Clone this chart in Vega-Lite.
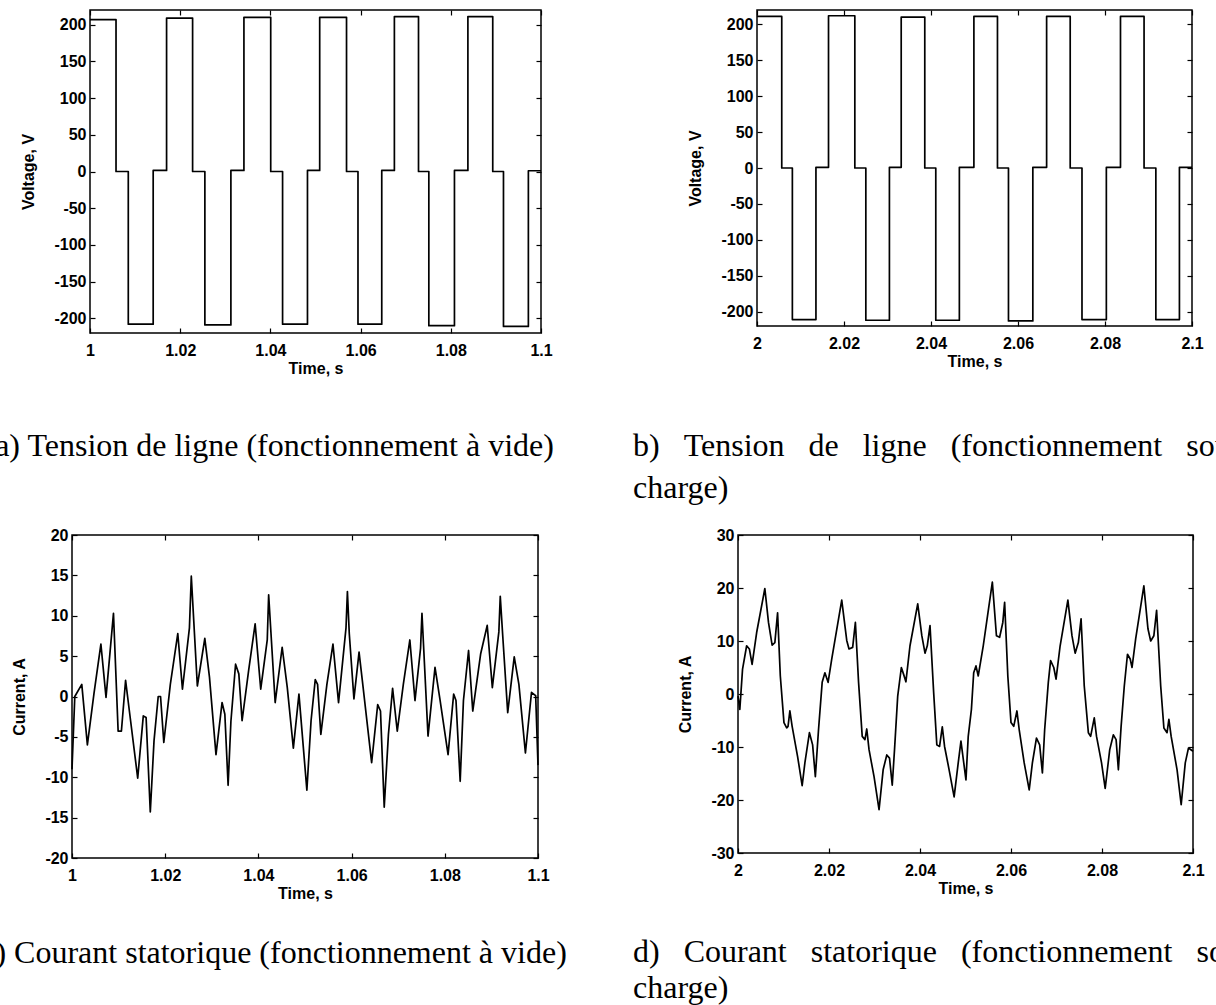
{
  "$schema": "https://vega.github.io/schema/vega-lite/v6.json",
  "background": "white",
  "padding": {"left": -20, "top": 8, "right": 0, "bottom": 0},
  "datasets": {
    "va": [{"t":1,"v":207},{"t":1.00577,"v":207},{"t":1.00577,"v":0},{"t":1.00849,"v":0},{"t":1.00849,"v":-208},{"t":1.01401,"v":-208},{"t":1.01401,"v":1.5},{"t":1.01698,"v":1.5},{"t":1.01698,"v":209},{"t":1.02275,"v":209},{"t":1.02275,"v":0},{"t":1.02547,"v":0},{"t":1.02547,"v":-209},{"t":1.03124,"v":-209},{"t":1.03124,"v":1.5},{"t":1.03413,"v":1.5},{"t":1.03413,"v":210},{"t":1.04007,"v":210},{"t":1.04007,"v":0},{"t":1.0427,"v":0},{"t":1.0427,"v":-208},{"t":1.04822,"v":-208},{"t":1.04822,"v":1.5},{"t":1.05093,"v":1.5},{"t":1.05093,"v":210},{"t":1.05688,"v":210},{"t":1.05688,"v":0},{"t":1.05942,"v":0},{"t":1.05942,"v":-208},{"t":1.06469,"v":-208},{"t":1.06469,"v":1.5},{"t":1.06749,"v":1.5},{"t":1.06749,"v":211},{"t":1.07284,"v":211},{"t":1.07284,"v":0},{"t":1.07513,"v":0},{"t":1.07513,"v":-210},{"t":1.08081,"v":-210},{"t":1.08081,"v":1.5},{"t":1.08379,"v":1.5},{"t":1.08379,"v":211},{"t":1.0893,"v":211},{"t":1.0893,"v":0},{"t":1.09168,"v":0},{"t":1.09168,"v":-211},{"t":1.0972,"v":-211},{"t":1.0972,"v":1},{"t":1.1,"v":1}],
    "vb": [{"t":2,"v":211},{"t":2.00569,"v":211},{"t":2.00569,"v":0},{"t":2.00813,"v":0},{"t":2.00813,"v":-211},{"t":2.01355,"v":-211},{"t":2.01355,"v":1},{"t":2.01644,"v":1},{"t":2.01644,"v":212},{"t":2.02249,"v":212},{"t":2.02249,"v":0},{"t":2.02502,"v":0},{"t":2.02502,"v":-212},{"t":2.03044,"v":-212},{"t":2.03044,"v":1},{"t":2.03315,"v":1},{"t":2.03315,"v":210},{"t":2.03857,"v":210},{"t":2.03857,"v":0},{"t":2.0411,"v":0},{"t":2.0411,"v":-212},{"t":2.04652,"v":-212},{"t":2.04652,"v":1},{"t":2.04986,"v":1},{"t":2.04986,"v":211},{"t":2.05528,"v":211},{"t":2.05528,"v":0},{"t":2.05781,"v":0},{"t":2.05781,"v":-213},{"t":2.06341,"v":-213},{"t":2.06341,"v":1},{"t":2.06658,"v":1},{"t":2.06658,"v":211},{"t":2.072,"v":211},{"t":2.072,"v":0},{"t":2.07471,"v":0},{"t":2.07471,"v":-211},{"t":2.08031,"v":-211},{"t":2.08031,"v":1},{"t":2.08356,"v":1},{"t":2.08356,"v":211},{"t":2.08898,"v":211},{"t":2.08898,"v":0},{"t":2.09169,"v":0},{"t":2.09169,"v":-211},{"t":2.09711,"v":-211},{"t":2.09711,"v":1},{"t":2.1,"v":1}],
    "ic": [{"t":1,"v":-9},{"t":1.0006,"v":0},{"t":1.0021,"v":1.5},{"t":1.0033,"v":-6},{"t":1.0047,"v":0.3},{"t":1.0062,"v":6.5},{"t":1.0073,"v":-0.1},{"t":1.0089,"v":10.3},{"t":1.0099,"v":-4.3},{"t":1.0106,"v":-4.3},{"t":1.0115,"v":2},{"t":1.0124,"v":-2.2},{"t":1.0141,"v":-10.1},{"t":1.0153,"v":-2.4},{"t":1.0159,"v":-2.6},{"t":1.0168,"v":-14.3},{"t":1.0176,"v":-5.5},{"t":1.0185,"v":0},{"t":1.019,"v":0},{"t":1.0197,"v":-5.7},{"t":1.0211,"v":1.5},{"t":1.0227,"v":7.8},{"t":1.0237,"v":0.9},{"t":1.0252,"v":8.5},{"t":1.0256,"v":14.9},{"t":1.0269,"v":1.3},{"t":1.0285,"v":7.2},{"t":1.0295,"v":2.4},{"t":1.0309,"v":-7.2},{"t":1.0322,"v":-0.75},{"t":1.0328,"v":-2.2},{"t":1.0335,"v":-11},{"t":1.0341,"v":-3.1},{"t":1.0351,"v":4},{"t":1.0358,"v":2.8},{"t":1.0365,"v":-3},{"t":1.0379,"v":3.2},{"t":1.0393,"v":9},{"t":1.0405,"v":0.9},{"t":1.0419,"v":7},{"t":1.0422,"v":12.6},{"t":1.0436,"v":-0.75},{"t":1.0451,"v":6.1},{"t":1.0462,"v":1.1},{"t":1.0475,"v":-6.4},{"t":1.0487,"v":0.3},{"t":1.0504,"v":-11.6},{"t":1.0513,"v":-3},{"t":1.0522,"v":2.1},{"t":1.0527,"v":1.5},{"t":1.0534,"v":-4.7},{"t":1.0547,"v":1.5},{"t":1.056,"v":6.5},{"t":1.0572,"v":-0.75},{"t":1.0588,"v":8.5},{"t":1.0591,"v":13},{"t":1.0595,"v":7.8},{"t":1.0605,"v":-0.3},{"t":1.0616,"v":5.5},{"t":1.0623,"v":2},{"t":1.0643,"v":-8.2},{"t":1.0656,"v":-1},{"t":1.0662,"v":-1.8},{"t":1.067,"v":-13.7},{"t":1.0679,"v":-4.7},{"t":1.0688,"v":1},{"t":1.0698,"v":-4.3},{"t":1.0711,"v":1.5},{"t":1.0725,"v":7},{"t":1.0736,"v":-0.5},{"t":1.0748,"v":6},{"t":1.0751,"v":10.3},{"t":1.0764,"v":-4.9},{"t":1.0779,"v":3.6},{"t":1.079,"v":-0.5},{"t":1.0807,"v":-7.2},{"t":1.0819,"v":0.3},{"t":1.0824,"v":-0.5},{"t":1.0833,"v":-10.5},{"t":1.084,"v":-0.5},{"t":1.0851,"v":5.7},{"t":1.086,"v":-1.8},{"t":1.0877,"v":5.3},{"t":1.0891,"v":8.8},{"t":1.0902,"v":1.1},{"t":1.0916,"v":8},{"t":1.0919,"v":12.4},{"t":1.0924,"v":7.8},{"t":1.0935,"v":-2},{"t":1.0949,"v":4.9},{"t":1.0959,"v":1.5},{"t":1.0973,"v":-7},{"t":1.0986,"v":0.5},{"t":1.0995,"v":0.1},{"t":1.1,"v":-8.5}],
    "id": [{"t":2,"v":-0.4},{"t":2.0004,"v":-2.9},{"t":2.001,"v":4.7},{"t":2.0019,"v":9.1},{"t":2.0025,"v":8.5},{"t":2.0031,"v":5.6},{"t":2.0041,"v":11.6},{"t":2.0059,"v":19.9},{"t":2.0067,"v":13.5},{"t":2.0075,"v":9.2},{"t":2.0081,"v":9.7},{"t":2.0087,"v":15.3},{"t":2.0093,"v":3.4},{"t":2.0101,"v":-5.4},{"t":2.0107,"v":-6.4},{"t":2.011,"v":-6.1},{"t":2.0114,"v":-3.2},{"t":2.0119,"v":-6.1},{"t":2.0131,"v":-11.8},{"t":2.0141,"v":-17.3},{"t":2.0147,"v":-13},{"t":2.0157,"v":-7.3},{"t":2.0164,"v":-9.6},{"t":2.017,"v":-15.6},{"t":2.0177,"v":-6.7},{"t":2.0185,"v":2.2},{"t":2.0191,"v":4},{"t":2.0198,"v":2.2},{"t":2.0206,"v":6.6},{"t":2.0228,"v":17.7},{"t":2.0239,"v":10.1},{"t":2.0244,"v":8.5},{"t":2.0252,"v":8.8},{"t":2.0258,"v":13.5},{"t":2.0265,"v":2.2},{"t":2.0273,"v":-8},{"t":2.0279,"v":-8.6},{"t":2.0283,"v":-6.6},{"t":2.0288,"v":-10.5},{"t":2.0299,"v":-15.6},{"t":2.031,"v":-21.8},{"t":2.0319,"v":-14.3},{"t":2.0327,"v":-11.5},{"t":2.0333,"v":-12.1},{"t":2.0339,"v":-17.2},{"t":2.0344,"v":-10.5},{"t":2.0351,"v":-0.4},{"t":2.0359,"v":5},{"t":2.0364,"v":3.7},{"t":2.0369,"v":2.3},{"t":2.0378,"v":9.1},{"t":2.0395,"v":17},{"t":2.0404,"v":11},{"t":2.0411,"v":7.7},{"t":2.0416,"v":9.1},{"t":2.0422,"v":12.9},{"t":2.043,"v":0.3},{"t":2.0437,"v":-9.6},{"t":2.0443,"v":-9.9},{"t":2.0449,"v":-6.2},{"t":2.0454,"v":-9.9},{"t":2.0464,"v":-14.3},{"t":2.0475,"v":-19.4},{"t":2.0484,"v":-13},{"t":2.049,"v":-8.9},{"t":2.0501,"v":-16.2},{"t":2.0506,"v":-8},{"t":2.0513,"v":-2.9},{"t":2.0518,"v":4},{"t":2.0523,"v":5.3},{"t":2.0528,"v":3.4},{"t":2.0539,"v":9.1},{"t":2.0559,"v":21.1},{"t":2.0568,"v":11},{"t":2.0575,"v":10.7},{"t":2.0582,"v":13.5},{"t":2.0586,"v":17.3},{"t":2.0593,"v":3.4},{"t":2.06,"v":-5.4},{"t":2.0606,"v":-6.1},{"t":2.0613,"v":-3.2},{"t":2.0618,"v":-6.7},{"t":2.0629,"v":-13},{"t":2.064,"v":-18.1},{"t":2.0647,"v":-13},{"t":2.0656,"v":-8.3},{"t":2.0663,"v":-9.6},{"t":2.0669,"v":-14.9},{"t":2.0674,"v":-6.7},{"t":2.0682,"v":2.2},{"t":2.0687,"v":6.3},{"t":2.0694,"v":5},{"t":2.0699,"v":2.8},{"t":2.0708,"v":9.1},{"t":2.0725,"v":17.7},{"t":2.0734,"v":11},{"t":2.0741,"v":7.7},{"t":2.0748,"v":9.7},{"t":2.0754,"v":14.2},{"t":2.0761,"v":1.5},{"t":2.077,"v":-7.3},{"t":2.0775,"v":-8},{"t":2.0783,"v":-4.5},{"t":2.0788,"v":-8},{"t":2.0799,"v":-13},{"t":2.0807,"v":-17.8},{"t":2.0817,"v":-10.5},{"t":2.0825,"v":-7.7},{"t":2.0831,"v":-8.6},{"t":2.0836,"v":-14.3},{"t":2.0842,"v":-6.1},{"t":2.0849,"v":1.5},{"t":2.0856,"v":7.5},{"t":2.0862,"v":6.6},{"t":2.0866,"v":5},{"t":2.0874,"v":10.4},{"t":2.0892,"v":20.4},{"t":2.0901,"v":12.3},{"t":2.0907,"v":10},{"t":2.0914,"v":11},{"t":2.092,"v":15.8},{"t":2.0929,"v":1.5},{"t":2.0936,"v":-6.4},{"t":2.0943,"v":-7.3},{"t":2.0947,"v":-4.8},{"t":2.0952,"v":-8},{"t":2.0965,"v":-14.3},{"t":2.0974,"v":-20.9},{"t":2.0983,"v":-13},{"t":2.099,"v":-10.2},{"t":2.1,"v":-10.8}]
  },
  "bounds": "flush",
  "spacing": 525,
  "vconcat": [
    {
      "bounds": "flush",
      "spacing": 0,
      "hconcat": [
        {"width": 18, "height": 10, "data": {"values": [{}]}, "mark": {"type": "point", "opacity": 0}, "view": {"stroke": null}},
        {
          "bounds": "flush",
          "spacing": 216,
          "hconcat": [
            {
              "width": 451, "height": 323,
              "data": {"name": "va"},
              "title": {"text": "a) Tension de ligne (fonctionnement à vide)", "anchor": "middle", "dx": -41, "offset": 55},
              "layer": [
                {"mark": {"type": "line", "color": "black", "strokeWidth": 1.7, "strokeJoin": "round"},
                 "encoding": {
                   "x": {"field": "t", "type": "quantitative", "scale": {"domain": [1, 1.1], "nice": false, "zero": false}, "axis": {"orient": "bottom", "values": [1, 1.02, 1.04, 1.06, 1.08, 1.1], "title": "Time, s", "labelExpr": "datum.value + ''"}},
                   "y": {"field": "v", "type": "quantitative", "scale": {"domain": [-220, 220], "nice": false, "zero": false}, "axis": {"orient": "left", "values": [-200, -150, -100, -50, 0, 50, 100, 150, 200], "title": "Voltage, V", "labelExpr": "datum.value + ''"}},
                   "order": {"value": null}}},
                {"mark": {"type": "line", "opacity": 0},
                 "encoding": {
                   "x": {"field": "t", "type": "quantitative", "scale": {"domain": [1, 1.1], "nice": false, "zero": false}, "axis": {"orient": "top", "values": [1, 1.02, 1.04, 1.06, 1.08, 1.1], "labels": false, "title": null}},
                   "y": {"field": "v", "type": "quantitative", "scale": {"domain": [-220, 220], "nice": false, "zero": false}, "axis": {"orient": "right", "values": [-200, -150, -100, -50, 0, 50, 100, 150, 200], "labels": false, "title": null}},
                   "order": {"value": null}}}
              ],
              "resolve": {"axis": {"x": "independent", "y": "independent"}}
            },
            {
              "width": 435, "height": 316,
              "data": {"name": "vb"},
              "title": {"text": ["b)\u00a0\u00a0\u00a0Tension\u00a0\u00a0\u00a0de\u00a0\u00a0\u00a0ligne\u00a0\u00a0\u00a0(fonctionnement\u00a0\u00a0\u00a0sous", "\u00a0\u00a0\u00a0\u00a0\u00a0\u00a0charge)"], "anchor": "start", "dx": -124, "offset": 62, "lineHeight": 42},
              "layer": [
                {"mark": {"type": "line", "color": "black", "strokeWidth": 1.7, "strokeJoin": "round"},
                 "encoding": {
                   "x": {"field": "t", "type": "quantitative", "scale": {"domain": [2, 2.1], "nice": false, "zero": false}, "axis": {"orient": "bottom", "values": [2, 2.02, 2.04, 2.06, 2.08, 2.1], "title": "Time, s", "labelExpr": "datum.value + ''"}},
                   "y": {"field": "v", "type": "quantitative", "scale": {"domain": [-220, 220], "nice": false, "zero": false}, "axis": {"orient": "left", "values": [-200, -150, -100, -50, 0, 50, 100, 150, 200], "title": "Voltage, V", "labelExpr": "datum.value + ''"}},
                   "order": {"value": null}}},
                {"mark": {"type": "line", "opacity": 0},
                 "encoding": {
                   "x": {"field": "t", "type": "quantitative", "scale": {"domain": [2, 2.1], "nice": false, "zero": false}, "axis": {"orient": "top", "values": [2, 2.02, 2.04, 2.06, 2.08, 2.1], "labels": false, "title": null}},
                   "y": {"field": "v", "type": "quantitative", "scale": {"domain": [-220, 220], "nice": false, "zero": false}, "axis": {"orient": "right", "values": [-200, -150, -100, -50, 0, 50, 100, 150, 200], "labels": false, "title": null}},
                   "order": {"value": null}}}
              ],
              "resolve": {"axis": {"x": "independent", "y": "independent"}}
            }
          ]
        }
      ]
    },
    {
      "bounds": "flush",
      "spacing": 200,
      "hconcat": [
        {
          "width": 466, "height": 323,
          "data": {"name": "ic"},
          "title": {"text": "c) Courant statorique (fonctionnement à vide)", "anchor": "middle", "dx": -31, "offset": 37},
          "layer": [
            {"mark": {"type": "line", "color": "black", "strokeWidth": 1.7, "strokeJoin": "round"},
             "encoding": {
               "x": {"field": "t", "type": "quantitative", "scale": {"domain": [1, 1.1], "nice": false, "zero": false}, "axis": {"orient": "bottom", "values": [1, 1.02, 1.04, 1.06, 1.08, 1.1], "title": "Time, s", "labelExpr": "datum.value + ''"}},
               "y": {"field": "v", "type": "quantitative", "scale": {"domain": [-20, 20], "nice": false, "zero": false}, "axis": {"orient": "left", "values": [-20, -15, -10, -5, 0, 5, 10, 15, 20], "title": "Current, A", "labelExpr": "datum.value + ''"}},
               "order": {"value": null}}},
            {"mark": {"type": "line", "opacity": 0},
             "encoding": {
               "x": {"field": "t", "type": "quantitative", "scale": {"domain": [1, 1.1], "nice": false, "zero": false}, "axis": {"orient": "top", "values": [1, 1.02, 1.04, 1.06, 1.08, 1.1], "labels": false, "title": null}},
               "y": {"field": "v", "type": "quantitative", "scale": {"domain": [-20, 20], "nice": false, "zero": false}, "axis": {"orient": "right", "values": [-20, -15, -10, -5, 0, 5, 10, 15, 20], "labels": false, "title": null}},
               "order": {"value": null}}}
          ],
          "resolve": {"axis": {"x": "independent", "y": "independent"}}
        },
        {
          "width": 455, "height": 318,
          "data": {"name": "id"},
          "title": {"text": ["d)\u00a0\u00a0\u00a0Courant\u00a0\u00a0\u00a0statorique\u00a0\u00a0\u00a0(fonctionnement\u00a0\u00a0\u00a0sous", "\u00a0\u00a0\u00a0\u00a0\u00a0\u00a0charge)"], "anchor": "start", "dx": -105, "offset": 41, "lineHeight": 36},
          "layer": [
            {"mark": {"type": "line", "color": "black", "strokeWidth": 1.7, "strokeJoin": "round"},
             "encoding": {
               "x": {"field": "t", "type": "quantitative", "scale": {"domain": [2, 2.1], "nice": false, "zero": false}, "axis": {"orient": "bottom", "values": [2, 2.02, 2.04, 2.06, 2.08, 2.1], "title": "Time, s", "labelExpr": "datum.value + ''"}},
               "y": {"field": "v", "type": "quantitative", "scale": {"domain": [-30, 30], "nice": false, "zero": false}, "axis": {"orient": "left", "values": [-30, -20, -10, 0, 10, 20, 30], "title": "Current, A", "labelExpr": "datum.value + ''"}},
               "order": {"value": null}}},
            {"mark": {"type": "line", "opacity": 0},
             "encoding": {
               "x": {"field": "t", "type": "quantitative", "scale": {"domain": [2, 2.1], "nice": false, "zero": false}, "axis": {"orient": "top", "values": [2, 2.02, 2.04, 2.06, 2.08, 2.1], "labels": false, "title": null}},
               "y": {"field": "v", "type": "quantitative", "scale": {"domain": [-30, 30], "nice": false, "zero": false}, "axis": {"orient": "right", "values": [-30, -20, -10, 0, 10, 20, 30], "labels": false, "title": null}},
               "order": {"value": null}}}
          ],
          "resolve": {"axis": {"x": "independent", "y": "independent"}}
        }
      ]
    }
  ],
  "config": {
    "view": {"stroke": "black", "strokeWidth": 1.5},
    "axis": {"domain": false, "grid": false, "ticks": true, "tickSize": -5, "tickColor": "black", "tickWidth": 1.2, "labelColor": "black", "labelFont": "Liberation Sans", "labelFontSize": 16, "labelFontWeight": "bold", "titleFont": "Liberation Sans", "titleFontSize": 16, "titleFontWeight": "bold", "titleColor": "black", "labelFlush": false, "labelOverlap": false, "labelBound": false},
    "axisX": {"labelPadding": 14, "titlePadding": 2},
    "axisY": {"labelPadding": 9, "titlePadding": 17},
    "title": {"orient": "bottom", "frame": "group", "baseline": "top", "font": "Liberation Serif", "fontSize": 32, "fontWeight": "normal", "color": "black"}
  }
}
